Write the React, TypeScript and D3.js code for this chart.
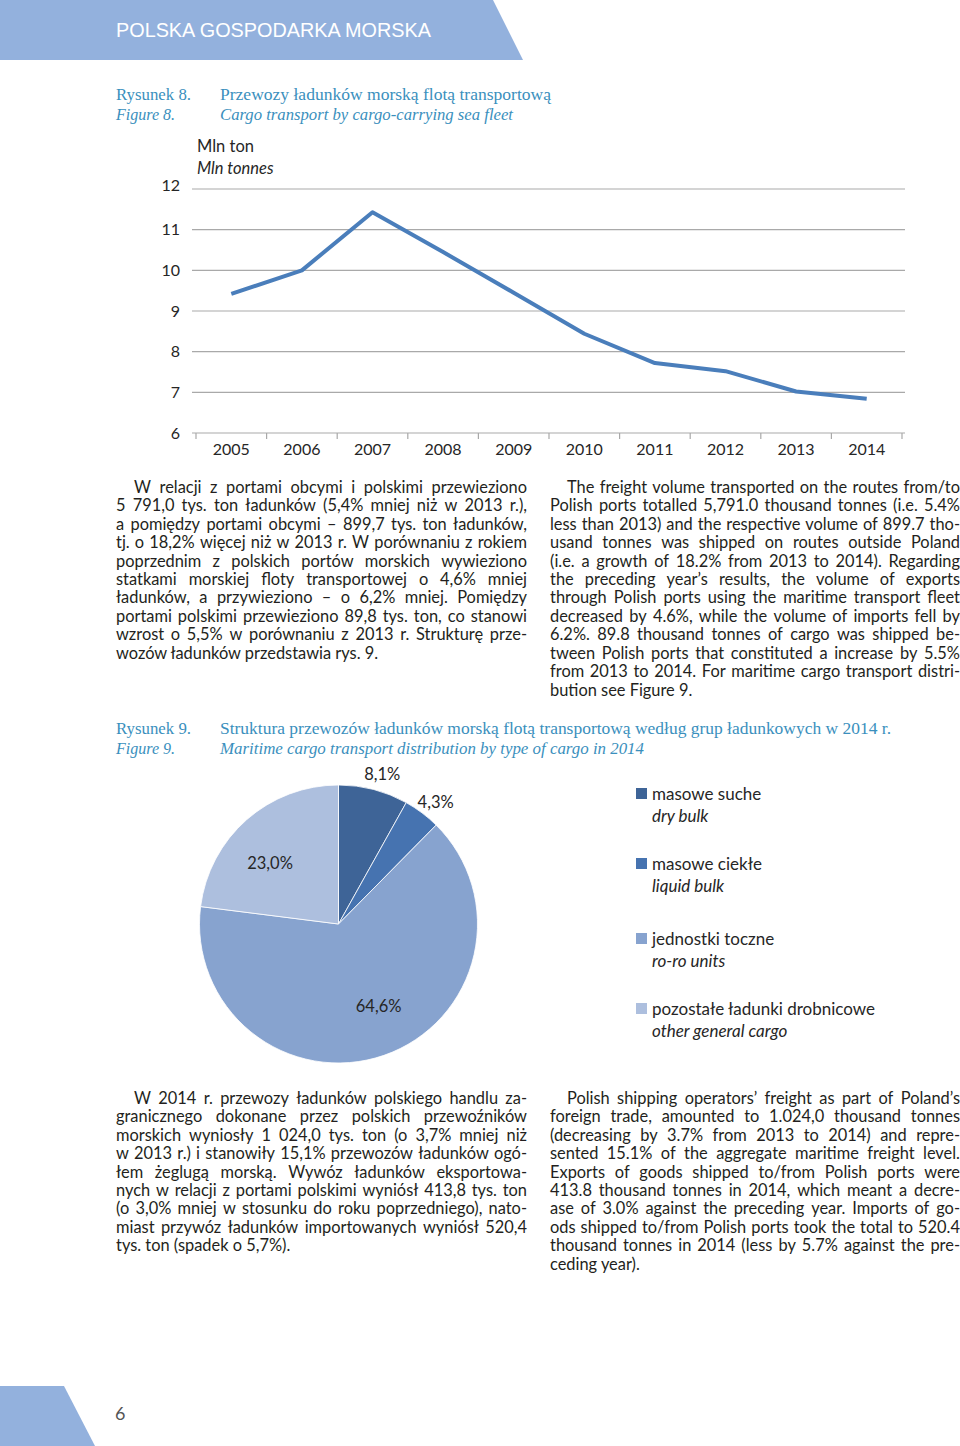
import React from "react";
import * as d3 from "d3";

const years = ["2005", "2006", "2007", "2008", "2009", "2010", "2011", "2012", "2013", "2014"];
const cargoVolume = [9.42, 10.0, 11.43, 10.45, 9.45, 8.44, 7.72, 7.52, 7.02, 6.84];
const yTicks = [6, 7, 8, 9, 10, 11, 12];

const pieCategoriesPl = ["masowe suche", "masowe ciekłe", "jednostki toczne", "pozostałe ładunki drobnicowe"];
const pieCategoriesEn = ["dry bulk", "liquid bulk", "ro-ro units", "other general cargo"];
const pieShares = [8.1, 4.3, 64.6, 23.0];
const pieLabels = ["8,1%", "4,3%", "64,6%", "23,0%"];
const pieColors = ["#3e6497", "#4673b0", "#87a3cf", "#adbfde"];

const para1Pl = [
  "W relacji z portami obcymi i polskimi przewieziono",
  "5 791,0 tys. ton ładunków (5,4% mniej niż w 2013 r.),",
  "a pomiędzy portami obcymi – 899,7 tys. ton ładunków,",
  "tj. o 18,2% więcej niż w 2013 r. W porównaniu z rokiem",
  "poprzednim z polskich portów morskich wywieziono",
  "statkami morskiej floty transportowej o 4,6% mniej",
  "ładunków, a przywieziono – o 6,2% mniej. Pomiędzy",
  "portami polskimi przewieziono 89,8 tys. ton, co stanowi",
  "wzrost o 5,5% w porównaniu z 2013 r. Strukturę prze-",
  "wozów ładunków przedstawia rys. 9.",
];
const para1En = [
  "The freight volume transported on the routes from/to",
  "Polish ports totalled 5,791.0 thousand tonnes (i.e. 5.4%",
  "less than 2013) and the respective volume of 899.7 tho-",
  "usand tonnes was shipped on routes outside Poland",
  "(i.e. a growth of 18.2% from 2013 to 2014). Regarding",
  "the preceding year’s results, the volume of exports",
  "through Polish ports using the maritime transport fleet",
  "decreased by 4.6%, while the volume of imports fell by",
  "6.2%. 89.8 thousand tonnes of cargo was shipped be-",
  "tween Polish ports that constituted a increase by 5.5%",
  "from 2013 to 2014. For maritime cargo transport distri-",
  "bution see Figure 9.",
];
const para2Pl = [
  "W 2014 r. przewozy ładunków polskiego handlu za-",
  "granicznego dokonane przez polskich przewoźników",
  "morskich wyniosły 1 024,0 tys. ton (o 3,7% mniej niż",
  "w 2013 r.) i stanowiły 15,1% przewozów ładunków ogó-",
  "łem żeglugą morską. Wywóz ładunków eksportowa-",
  "nych w relacji z portami polskimi wyniósł 413,8 tys. ton",
  "(o 3,0% mniej w stosunku do roku poprzedniego), nato-",
  "miast przywóz ładunków importowanych wyniósł 520,4",
  "tys. ton (spadek o 5,7%).",
];
const para2En = [
  "Polish shipping operators’ freight as part of Poland’s",
  "foreign trade, amounted to 1.024,0 thousand tonnes",
  "(decreasing by 3.7% from 2013 to 2014) and repre-",
  "sented 15.1% of the aggregate maritime freight level.",
  "Exports of goods shipped to/from Polish ports were",
  "413.8 thousand tonnes in 2014, which meant a decre-",
  "ase of 3.0% against the preceding year. Imports of go-",
  "ods shipped to/from Polish ports took the total to 520.4",
  "thousand tonnes in 2014 (less by 5.7% against the pre-",
  "ceding year).",
];

const BODY_FONT = "Lato, 'Open Sans', sans-serif";
const SERIF = "'Liberation Serif', 'DejaVu Serif', serif";
const CAPTION = "#3a8fbd";
const TEXT = "#231f20";
const BODY_SIZE = 16.4;

let measureCtx: CanvasRenderingContext2D | null = null;
function measure(s: string): number {
  if (!measureCtx && typeof document !== "undefined") {
    measureCtx = document.createElement("canvas").getContext("2d");
  }
  if (!measureCtx) return s.length * BODY_SIZE * 0.5;
  measureCtx.font = `${BODY_SIZE}px Lato, 'Open Sans', sans-serif`;
  return measureCtx.measureText(s).width;
}

function Paragraph({ lines, x0, x1, yTop, indent }: { lines: string[]; x0: number; x1: number; yTop: number; indent: number }) {
  const lh = 18.45;
  return (
    <g fontFamily={BODY_FONT} fontSize={BODY_SIZE} fill={TEXT}>
      {lines.map((l, i) => {
        const x = i === 0 ? x0 + indent : x0;
        const yy = yTop + i * lh;
        const last = i === lines.length - 1;
        if (last) {
          return (
            <text key={i} x={x} y={yy} dy="0.35em">
              {l}
            </text>
          );
        }
        const words = l.split(" ");
        const widths = words.map(measure);
        const total = widths.reduce((a, b) => a + b, 0);
        const gap = words.length > 1 ? (x1 - x - total) / (words.length - 1) : 0;
        let cur = x;
        return (
          <g key={i}>
            {words.map((w, j) => {
              const px = cur;
              cur += widths[j] + gap;
              return (
                <text key={j} x={px} y={yy} dy="0.35em">
                  {w}
                </text>
              );
            })}
          </g>
        );
      })}
    </g>
  );
}

export default function App() {
  const x = d3.scaleBand<string>().domain(years).range([196, 902]);
  const y = d3.scaleLinear().domain([6, 12]).range([433, 189]);
  const line = d3
    .line<number>()
    .x((_, i) => (x(years[i]) as number) + x.bandwidth() / 2)
    .y((d) => y(d));

  const cx = 338.5;
  const cy = 924;
  const R = 139;
  const pie = d3.pie<number>().sort(null).value((d) => d)(pieShares);
  const arc = d3.arc<d3.PieArcDatum<number>>().innerRadius(0).outerRadius(R);

  const boundaries = [...years.map((yr) => x(yr) as number), 902];

  return (
    <div style={{ position: "absolute", left: 0, top: 0 }}>
      <svg width={960} height={1446} style={{ display: "block", background: "#fff" }}>
        {/* header band */}
        <polygon points="0,0 493,0 523,60 0,60" fill="#93b1dd" />
        <text
          x={116}
          y={30}
          dy="0.35em"
          fill="#fff"
          fontFamily="'Liberation Sans', Arial, sans-serif"
          fontSize={20}
          textLength={315}
          lengthAdjust="spacingAndGlyphs"
        >
          POLSKA GOSPODARKA MORSKA
        </text>

        {/* Figure 8 caption */}
        <g fontFamily={SERIF} fontSize={16} fill={CAPTION}>
          <text x={116} y={94} dy="0.35em" textLength={75} lengthAdjust="spacingAndGlyphs">Rysunek 8.</text>
          <text x={116} y={114} dy="0.35em" fontStyle="italic" textLength={59} lengthAdjust="spacingAndGlyphs">Figure 8.</text>
          <text x={220} y={94} dy="0.35em" textLength={331} lengthAdjust="spacingAndGlyphs">Przewozy ładunków morską flotą transportową</text>
          <text x={220} y={114} dy="0.35em" fontStyle="italic" textLength={293} lengthAdjust="spacingAndGlyphs">Cargo transport by cargo-carrying sea fleet</text>
        </g>

        {/* line chart */}
        <g fontFamily={BODY_FONT} fill="#262626">
          <text x={197} y={146} dy="0.35em" fontSize={16.5}>Mln ton</text>
          <text x={197} y={168} dy="0.35em" fontSize={16.5} fontStyle="italic">Mln tonnes</text>
          {yTicks.map((t) => (
            <g key={t}>
              <line x1={192} x2={905} y1={y(t)} y2={y(t)} stroke="#a9a9a9" strokeWidth={1.2} />
              <text x={180} y={y(t) - (t === 12 ? 4 : 0)} dy="0.35em" textAnchor="end" fontSize={16}>
                {t}
              </text>
            </g>
          ))}
          {boundaries.map((b, i) => (
            <line key={i} x1={b} x2={b} y1={y(6)} y2={y(6) + 6} stroke="#a9a9a9" strokeWidth={1.2} />
          ))}
          {years.map((yr) => (
            <text key={yr} x={(x(yr) as number) + x.bandwidth() / 2} y={449} dy="0.35em" textAnchor="middle" fontSize={16}>
              {yr}
            </text>
          ))}
          <path d={line(cargoVolume) || ""} fill="none" stroke="#4a7ebb" strokeWidth={4} strokeLinejoin="round" />
        </g>

        <Paragraph lines={para1Pl} x0={116} x1={527} yTop={487} indent={18} />
        <Paragraph lines={para1En} x0={550} x1={960} yTop={487} indent={17} />

        {/* Figure 9 caption */}
        <g fontFamily={SERIF} fontSize={16} fill={CAPTION}>
          <text x={116} y={728} dy="0.35em" textLength={75} lengthAdjust="spacingAndGlyphs">Rysunek 9.</text>
          <text x={116} y={748} dy="0.35em" fontStyle="italic" textLength={59} lengthAdjust="spacingAndGlyphs">Figure 9.</text>
          <text x={220} y={728} dy="0.35em" textLength={671} lengthAdjust="spacingAndGlyphs">
            Struktura przewozów ładunków morską flotą transportową według grup ładunkowych w 2014 r.
          </text>
          <text x={220} y={748} dy="0.35em" fontStyle="italic" textLength={424} lengthAdjust="spacingAndGlyphs">
            Maritime cargo transport distribution by type of cargo in 2014
          </text>
        </g>

        {/* pie */}
        <g transform={`translate(${cx},${cy})`}>
          {pie.map((p, i) => (
            <path key={i} d={arc(p) || ""} fill={pieColors[i]} stroke="#ffffff" strokeWidth={0.8} />
          ))}
          {pie.map((p, i) => {
            const mid = (p.startAngle + p.endAngle) / 2;
            const outside = pieShares[i] < 10;
            const r = outside ? R * 1.12 : R * 0.66;
            const a = outside ? mid + 0.03 : mid - 0.12;
            return (
              <text
                key={i}
                x={Math.sin(a) * r}
                y={-Math.cos(a) * r}
                dy="0.35em"
                textAnchor="middle"
                fontFamily={BODY_FONT}
                fontSize={16.5}
                fill="#262626"
              >
                {pieLabels[i]}
              </text>
            );
          })}
        </g>

        {/* legend */}
        <g fontFamily={BODY_FONT} fontSize={17} fill="#262626">
          {pieCategoriesPl.map((c, i) => {
            const yy = [794, 864, 939, 1009][i];
            return (
              <g key={c}>
                <rect x={636} y={yy - 6} width={11} height={11} fill={pieColors[i]} />
                <text x={652} y={yy} dy="0.35em">{c}</text>
                <text x={652} y={yy + 22} dy="0.35em" fontStyle="italic">{pieCategoriesEn[i]}</text>
              </g>
            );
          })}
        </g>

        <Paragraph lines={para2Pl} x0={116} x1={527} yTop={1098} indent={18} />
        <Paragraph lines={para2En} x0={550} x1={960} yTop={1098} indent={17} />

        {/* footer */}
        <polygon points="0,1386 64,1386 95,1446 0,1446" fill="#93b1dd" />
        <text x={115} y={1414} dy="0.35em" fontFamily={BODY_FONT} fontSize={18} fill="#555">6</text>
      </svg>
    </div>
  );
}
